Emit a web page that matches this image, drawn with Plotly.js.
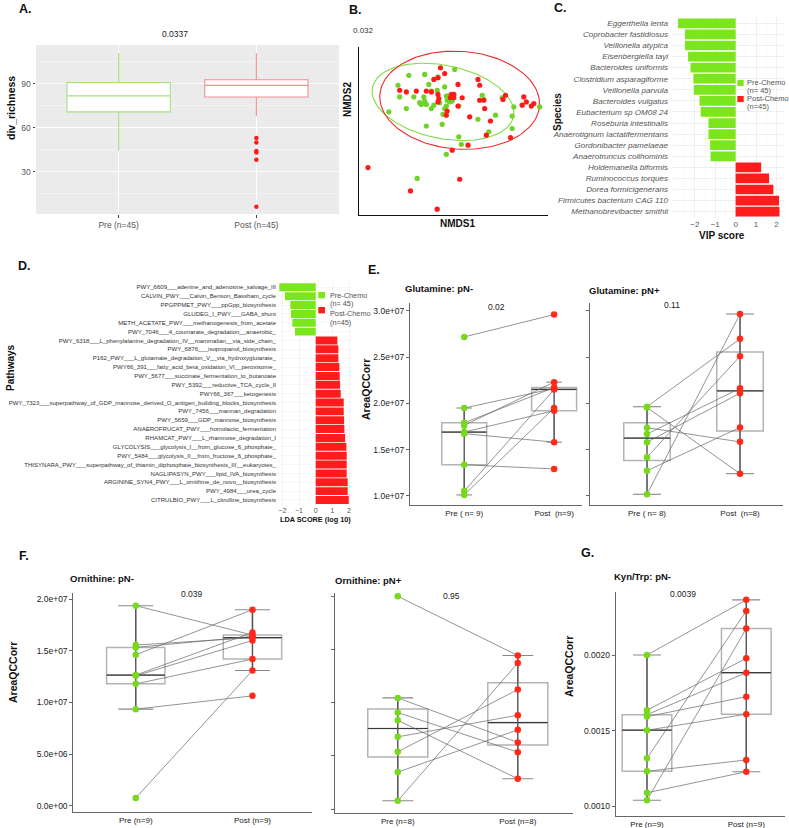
<!DOCTYPE html>
<html><head><meta charset="utf-8">
<script src="https://cdn.plot.ly/plotly-3.0.1.min.js"></script>
<style>html,body{margin:0;padding:0;background:#fff}#chart{width:789px;height:828px}</style>
</head><body><div id="chart"></div>
<script>
// ---------------- DATA ----------------
// A. richness box plot (summary statistics)
const richCats = ['Pre (n=45)', 'Post (n=45)'];
const richQ1 = [70.8, 81.0];
const richMed = [81.7, 88.9];
const richQ3 = [90.9, 92.7];
const richLo = [44.2, 68.0];
const richHi = [111.0, 111.0];
const richPostOutliers = [53.0, 49.8, 44.0, 43.1, 38.1, 5.9];
const richP = '0.0337';

// B. NMDS ordination
const nmdsPreX = [-0.53,-0.34,0.02,-0.18,-0.66,-0.29,-0.10,-0.64,-0.47,-0.56,-0.19,-0.26,-0.35,-0.34,-0.40,-0.38,-0.32,-0.26,-0.16,-0.08,-0.06,-0.07,-0.04,-0.08,-0.10,-0.12,-0.13,-0.32,-0.77,0.07,-0.01,0.35,0.37,0.30,0.51,0.59,0.73,0.71,0.71,0.43,0.07,0.10,-0.08,-0.43,1.04,-0.23];
const nmdsPreY = [0.42,0.43,0.49,0.40,0.30,0.31,0.28,0.16,0.16,0.02,0.24,0.23,0.16,0.11,0.09,0.07,0.07,0.02,0.09,0.17,0.17,0.12,0.10,0.05,0.02,-0.05,-0.17,-0.19,-0.02,0.05,0.11,0.18,0.13,-0.11,-0.06,0.15,0.04,-0.07,-0.22,-0.26,-0.32,-0.41,-0.53,-0.82,0.04,0.06];
const nmdsPostX = [-0.15,-0.10,-0.23,-0.18,-0.64,-0.56,-0.44,-0.32,-0.26,0.06,0.30,0.32,-0.18,-0.02,0.01,-0.03,0.01,0.11,-0.17,-0.18,-0.07,0.06,0.20,0.32,0.37,0.38,0.45,0.40,0.63,0.60,0.85,0.88,0.97,0.94,0.83,0.69,0.18,-0.01,0.08,-0.51,-0.19,-1.02,-0.08];
const nmdsPostY = [0.51,0.44,0.37,0.39,0.24,0.22,0.23,0.23,0.22,0.31,0.37,0.30,0.19,0.19,0.19,0.15,0.15,0.15,0.14,0.10,-0.01,0.05,-0.08,0.12,0.12,0.02,-0.13,-0.30,0.18,0.13,0.16,0.10,0.08,0.05,0.06,-0.33,-0.42,-0.48,-0.83,-0.97,-1.19,-0.69,-0.06];
// ellipse: centre x, centre y, semi-axis a, semi-axis b, rotation (deg)
const ellipsePre = [-0.12, 0.10, 0.864, 0.44, -11.7];
const ellipsePost = [0.08, 0.12, 0.96, 0.588, -4];
const nmdsP = '0.032';

// C. VIP scores
const speciesPre = ['Eggerthella lenta','Coprobacter fastidiosus','Veillonella atypica','Eisenbergiella tayi','Bacteroides uniformis','Clostridium asparagiforme','Veillonella parvula','Bacteroides vulgatus','Eubacterium sp OM08 24','Roseburia intestinalis','Anaerotignum lactatifermentans','Gordonibacter pamelaeae','Anaerotruncus colihominis'];
const vipPre = [-2.82,-2.48,-2.48,-2.33,-2.21,-2.07,-2.05,-1.77,-1.71,-1.33,-1.33,-1.25,-1.23];
const speciesPost = ['Holdemanella biformis','Ruminococcus torques','Dorea formicigenerans','Firmicutes bacterium CAG 110','Methanobrevibacter smithii'];
const vipPost = [1.25,1.64,1.85,2.13,2.15];

// D. LDA scores
const pathwaysPre = ['PWY_6609___adenine_and_adenosine_salvage_III','CALVIN_PWY___Calvin_Benson_Bassham_cycle','PPGPPMET_PWY___ppGpp_biosynthesis','GLUDEG_I_PWY___GABA_shunt','METH_ACETATE_PWY___methanogenesis_from_acetate','PWY_7046___4_coumarate_degradation__anaerobic_'];
const ldaPre = [-2.18,-1.84,-1.52,-1.48,-1.40,-1.24];
const pathwaysPost = ['PWY_6318___L_phenylalanine_degradation_IV__mammalian__via_side_chain_','PWY_6876___isopropanol_biosynthesis','P162_PWY___L_glutamate_degradation_V__via_hydroxyglutarate_','PWY66_391___fatty_acid_beta_oxidation_VI__peroxisome_','PWY_5677___succinate_fermentation_to_butanoate','PWY_5392___reductive_TCA_cycle_II','PWY66_367___ketogenesis','PWY_7323___superpathway_of_GDP_mannose_derived_O_antigen_building_blocks_biosynthesis','PWY_7456___mannan_degradation','PWY_5659___GDP_mannose_biosynthesis','ANAEROFRUCAT_PWY___homolactic_fermentation','RHAMCAT_PWY___L_rhamnose_degradation_I','GLYCOLYSIS___glycolysis_I__from_glucose_6_phosphate_','PWY_5484___glycolysis_II__from_fructose_6_phosphate_','THISYNARA_PWY___superpathway_of_thiamin_diphosphate_biosynthesis_III__eukaryotes_','NAGLIPASYN_PWY___lipid_IVA_biosynthesis','ARGININE_SYN4_PWY___L_ornithine_de_novo__biosynthesis','PWY_4984___urea_cycle','CITRULBIO_PWY___L_citrulline_biosynthesis'];
const ldaPost = [1.30,1.36,1.36,1.42,1.44,1.46,1.50,1.68,1.68,1.70,1.72,1.76,1.84,1.86,1.86,1.86,1.92,1.92,1.98];

// E. Glutamine (paired: index k in Pre matches index k in Post)
const gluNegCats = ['Pre ( n= 9)', 'Post\u00a0 (n=9)'];
const gluNegPre = [2.718e7,1.949e7,1.789e7,1.761e7,1.689e7,1.672e7,1.335e7,1.051e7,1.009e7];
const gluNegPost = [2.96e7,2.16e7,2.17e7,2.229e7,1.92e7,1.58e7,1.29e7,2.15e7,1.95e7];
const gluNegP = '0.02';
const gluPosCats = ['Pre ( n= 8)', 'Post\u00a0 (n=8)'];
const gluPosPre = [1.963e7,1.955e7,1.736e7,1.668e7,1.58e7,1.417e7,1.271e7,1.016e7];
const gluPosPost = [2.697e7,1.239e7,1.583e7,2.162e7,2.109e7,2.509e7,1.739e7,2.966e7];
const gluPosP = '0.11';
const gluTickVals = [1e7,1.5e7,2e7,2.5e7,3e7];
const gluTickText = ['1.0e+07','1.5e+07','2.0e+07','2.5e+07','3.0e+07'];

// F. Ornithine
const ornNegCats = ['Pre (n=9)', 'Post (n=9)'];
const ornNegPre = [1.937e7,1.556e7,1.533e7,1.462e7,1.265e7,1.258e7,1.18e7,0.935e7,0.075e7];
const ornNegPost = [1.653e7,1.627e7,1.64e7,1.898e7,1.678e7,1.60e7,1.42e7,1.064e7,1.31e7];
const ornNegP = '0.039';
const ornPosCats = ['Pre (n=8)', 'Post (n=8)'];
const ornPosPre = [2.004e7,1.047e7,0.909e7,0.837e7,0.68e7,0.539e7,0.348e7,0.078e7];
const ornPosPost = [1.446e7,0.627e7,0.536e7,0.285e7,0.884e7,1.126e7,0.746e7,1.376e7];
const ornPosP = '0.95';
const ornTickVals = [0,5e6,1e7,1.5e7,2e7];
const ornTickText = ['0.0e+00','5.0e+06','1.0e+07','1.5e+07','2.0e+07'];

// G. Kyn/Trp
const kynCats = ['Pre (n=9)', 'Post (n=9)'];
const kynPre = [0.002003,0.001637,0.001608,0.001595,0.001505,0.001319,0.001233,0.001091,0.001041];
const kynPost = [0.002368,0.001981,0.001886,0.001727,0.001611,0.002295,0.001308,0.00123,0.002178];
const kynP = '0.0039';
const kynTickVals = [0.001,0.0015,0.002];
const kynTickText = ['0.0010','0.0015','0.0020'];

const legendLabels = ['Pre-Chemo', '(n= 45)', 'Post-Chemo', '(n=45)'];

// ---------------- STYLE / HELPERS ----------------
const W = 789, H = 828;
const FONT = 'Liberation Sans, Arial, sans-serif';
const GREEN = '#77d81e', RED = '#ff2a1a';
const BAR_GREEN = '#7be61c', BAR_RED = '#ff1c1c';
const BOXW = 0.5;
const dom = (a, b) => [a / W, b / W];
const vdom = (top, bot) => [1 - bot / H, 1 - top / H];

function q7(arr, p) {
  const s = [...arr].sort((a, b) => a - b);
  const h = (s.length - 1) * p, lo = Math.floor(h);
  const hi = Math.min(lo + 1, s.length - 1);
  return s[lo] + (h - lo) * (s[hi] - s[lo]);
}
function boxStats(vals) {
  const q1 = q7(vals, 0.25), med = q7(vals, 0.5), q3 = q7(vals, 0.75);
  const iqr = q3 - q1;
  const inside = vals.filter(v => v >= q1 - 1.5 * iqr && v <= q3 + 1.5 * iqr);
  return {q1, med, q3, lo: Math.min(...inside), hi: Math.max(...inside)};
}
function ellipsePts(p) {
  const [cx, cy, a, b, deg] = p, th = deg * Math.PI / 180;
  const xs = [], ys = [];
  for (let k = 0; k <= 144; k++) {
    const t = 2 * Math.PI * k / 144;
    const ex = a * Math.cos(t), ey = b * Math.sin(t);
    xs.push(cx + ex * Math.cos(th) - ey * Math.sin(th));
    ys.push(cy + ex * Math.sin(th) + ey * Math.cos(th));
  }
  return [xs, ys];
}

const traces = [];

// ---------------- A ----------------
richCats.forEach((c, i) => {
  traces.push({type: 'box', x: [i], q1: [richQ1[i]], median: [richMed[i]], q3: [richQ3[i]],
    lowerfence: [richLo[i]], upperfence: [richHi[i]], width: 0.75, whiskerwidth: 0,
    fillcolor: '#ffffff', line: {color: i === 0 ? '#a6e27c' : '#f29090', width: 1.1},
    boxpoints: false, xaxis: 'x', yaxis: 'y', hoverinfo: 'skip'});
});
traces.push({type: 'scatter', mode: 'markers', x: richPostOutliers.map(() => 1), y: richPostOutliers,
  marker: {color: '#ff1a1a', size: 4.5}, xaxis: 'x', yaxis: 'y', hoverinfo: 'skip'});

// ---------------- B ----------------
[[ellipsePre, '#7fdc3f'], [ellipsePost, '#ee2a2a']].forEach(([p, col]) => {
  const [xs, ys] = ellipsePts(p);
  traces.push({type: 'scatter', mode: 'lines', x: xs, y: ys, line: {color: col, width: 1.1},
    xaxis: 'x2', yaxis: 'y2', hoverinfo: 'skip'});
});
traces.push({type: 'scatter', mode: 'markers', x: nmdsPreX, y: nmdsPreY, marker: {color: '#6fd12a', size: 5.2},
  xaxis: 'x2', yaxis: 'y2', hoverinfo: 'skip'});
traces.push({type: 'scatter', mode: 'markers', x: nmdsPostX, y: nmdsPostY, marker: {color: '#ff1a1a', size: 5.2},
  xaxis: 'x2', yaxis: 'y2', hoverinfo: 'skip'});

// ---------------- C ----------------
traces.push({type: 'bar', orientation: 'h', y: speciesPre, x: vipPre, marker: {color: BAR_GREEN},
  width: 0.88, xaxis: 'x3', yaxis: 'y3', hoverinfo: 'skip'});
traces.push({type: 'bar', orientation: 'h', y: speciesPost, x: vipPost, marker: {color: BAR_RED},
  width: 0.88, xaxis: 'x3', yaxis: 'y3', hoverinfo: 'skip'});

// ---------------- D ----------------
traces.push({type: 'bar', orientation: 'h', y: pathwaysPre, x: ldaPre, marker: {color: BAR_GREEN},
  width: 0.9, xaxis: 'x4', yaxis: 'y4', hoverinfo: 'skip'});
traces.push({type: 'bar', orientation: 'h', y: pathwaysPost, x: ldaPost, marker: {color: BAR_RED},
  width: 0.9, xaxis: 'x4', yaxis: 'y4', hoverinfo: 'skip'});

// ---------------- paired panels ----------------
function paired(n, pre, post, capSize) {
  const xa = 'x' + n, ya = 'y' + n;
  [pre, post].forEach((vals, i) => {
    const s = boxStats(vals);
    traces.push({type: 'box', x: [i], q1: [s.q1], median: [s.med], q3: [s.q3], lowerfence: [s.lo], upperfence: [s.hi],
      width: BOXW, whiskerwidth: 0, fillcolor: 'rgba(255,255,255,0)', line: {color: '#b4b4b4', width: 1.5},
      boxpoints: false, xaxis: xa, yaxis: ya, hoverinfo: 'skip'});
    traces.push({type: 'scatter', mode: 'lines', x: [i - BOXW / 2, i + BOXW / 2], y: [s.med, s.med],
      line: {color: '#3a3a3a', width: 1.2}, xaxis: xa, yaxis: ya, hoverinfo: 'skip'});
    traces.push({type: 'scatter', mode: 'lines', x: [i, i], y: [s.lo, s.hi],
      line: {color: '#555555', width: 1.4}, xaxis: xa, yaxis: ya, hoverinfo: 'skip'});
    traces.push({type: 'scatter', mode: 'markers', x: [i, i], y: [s.lo, s.hi],
      marker: {symbol: 'line-ew', size: capSize, color: '#888', line: {width: 1.1, color: '#888'}},
      xaxis: xa, yaxis: ya, hoverinfo: 'skip'});
  });
  const lx = [], ly = [];
  pre.forEach((v, k) => { lx.push(0, 1, null); ly.push(v, post[k], null); });
  traces.push({type: 'scatter', mode: 'lines', x: lx, y: ly, line: {color: '#666', width: 0.7},
    xaxis: xa, yaxis: ya, hoverinfo: 'skip'});
  traces.push({type: 'scatter', mode: 'markers', x: pre.map(() => 0), y: pre, marker: {color: GREEN, size: 6.5},
    xaxis: xa, yaxis: ya, hoverinfo: 'skip'});
  traces.push({type: 'scatter', mode: 'markers', x: post.map(() => 1), y: post, marker: {color: RED, size: 6.5},
    xaxis: xa, yaxis: ya, hoverinfo: 'skip'});
}
paired(5, gluNegPre, gluNegPost, 11);
paired(6, gluPosPre, gluPosPost, 20);
paired(7, ornNegPre, ornNegPost, 25);
paired(8, ornPosPre, ornPosPost, 22);
paired(9, kynPre, kynPost, 20);

// ---------------- LAYOUT ----------------
const base = {showgrid: false, zeroline: false, fixedrange: true};
function pairedX(n, a, b, range, cats) {
  return Object.assign({}, base, {domain: dom(a, b), range, tickvals: [0, 1], ticktext: cats,
    showline: true, linecolor: '#666', linewidth: 1, ticks: '', anchor: 'y' + n,
    tickfont: {size: 8, color: '#222', family: FONT}});
}
function pairedY(n, top, bot, range, tv, tt, labels) {
  return Object.assign({}, base, {domain: vdom(top, bot), range, tickvals: tv, ticktext: tt,
    showticklabels: labels, ticks: 'outside', ticklen: 3, tickcolor: '#666', tickwidth: 1,
    showline: true, linecolor: '#666', linewidth: 1, anchor: 'x' + n,
    tickfont: {size: 8.5, color: '#222', family: FONT}});
}

const layout = {
  width: W, height: H, margin: {l: 0, r: 0, t: 0, b: 0},
  paper_bgcolor: '#ffffff', plot_bgcolor: 'rgba(0,0,0,0)', showlegend: false,
  font: {family: FONT}, boxmode: 'overlay', barmode: 'overlay',
  // A
  xaxis: Object.assign({}, base, {domain: dom(36, 339), range: [-0.6, 1.6], tickvals: [0, 1], ticktext: richCats,
    showgrid: true, gridcolor: '#ffffff', gridwidth: 1, ticks: 'outside', ticklen: 2.5, tickcolor: '#444',
    tickfont: {size: 8.5, color: '#555'}, anchor: 'y'}),
  yaxis: Object.assign({}, base, {domain: vdom(45, 214), range: [1, 116.5], tickvals: [30, 60, 90],
    showgrid: true, gridcolor: '#ffffff', gridwidth: 1,
    minor: {tickvals: [15, 45, 75, 105], showgrid: true, gridcolor: '#f7f7f7', gridwidth: 0.6, ticks: ''},
    ticks: 'outside', ticklen: 2.5, tickcolor: '#444', tickfont: {size: 8.5, color: '#555'}, anchor: 'x'}),
  // B
  xaxis2: Object.assign({}, base, {domain: dom(359, 548), range: [-1.128, 1.14], showline: true, linecolor: '#111',
    linewidth: 1, showticklabels: false, ticks: '', anchor: 'y2'}),
  yaxis2: Object.assign({}, base, {domain: vdom(47, 215), range: [-1.26, 0.76], showline: true, linecolor: '#111',
    linewidth: 1, showticklabels: false, ticks: '', anchor: 'x2'}),
  // C
  xaxis3: Object.assign({}, base, {domain: dom(673, 785), range: [-3.07, 2.42], tickvals: [-2, -1, 0, 1, 2],
    showgrid: true, gridcolor: '#ebebeb', gridwidth: 0.8,
    minor: {tickvals: [-2.5, -1.5, -0.5, 0.5, 1.5], showgrid: true, gridcolor: '#f4f4f4', gridwidth: 0.5, ticks: ''},
    ticks: '', tickfont: {size: 8, color: '#555'}, anchor: 'y3'}),
  yaxis3: Object.assign({}, base, {domain: vdom(16.7, 218.3), type: 'category',
    categoryarray: speciesPre.concat(speciesPost), categoryorder: 'array', range: [17.6, -0.6],
    showgrid: true, gridcolor: '#ebebeb', gridwidth: 0.8, ticks: '', ticklabelstandoff: 4,
    tickfont: {size: 8.1, color: '#555', style: 'italic'}, anchor: 'x3'}),
  // D
  xaxis4: Object.assign({}, base, {domain: dom(279, 352.4), range: [-2.2, 2.2], tickvals: [-2, -1, 0, 1, 2],
    showgrid: true, gridcolor: '#efefef', gridwidth: 0.8, ticks: '', tickfont: {size: 7, color: '#555'}, anchor: 'y4'}),
  yaxis4: Object.assign({}, base, {domain: vdom(282, 505.3), type: 'category',
    categoryarray: pathwaysPre.concat(pathwaysPost), categoryorder: 'array', range: [24.6, -0.6],
    showgrid: true, gridcolor: '#f2f2f2', gridwidth: 0.6, ticks: '', ticklabelstandoff: 2,
    tickfont: {size: 6.05, color: '#333'}, anchor: 'x4'}),
  // E
  xaxis5: pairedX(5, 410, 582, [-0.603, 1.31], gluNegCats),
  yaxis5: pairedY(5, 303, 505, [0.90e7, 3.085e7], gluTickVals, gluTickText, true),
  xaxis6: pairedX(6, 590, 783, [-0.613, 1.462], gluPosCats),
  yaxis6: pairedY(6, 303, 505, [0.90e7, 3.085e7], gluTickVals, gluTickText, false),
  // F
  xaxis7: pairedX(7, 73.3, 312, [-0.535, 1.51], ornNegCats),
  yaxis7: pairedY(7, 593, 812.3, [-0.064e7, 2.06e7], ornTickVals, ornTickText, true),
  xaxis8: pairedX(8, 335, 573, [-0.523, 1.46], ornPosCats),
  yaxis8: pairedY(8, 593, 813.3, [-0.04e7, 2.035e7], ornTickVals, ornTickText, false),
  // G
  xaxis9: pairedX(9, 615.7, 785, [-0.315, 1.39], kynCats),
  yaxis9: pairedY(9, 591.7, 816, [0.000937, 0.002422], kynTickVals, kynTickText, true),
};

// shapes: A background, legend keys
const shapes = [
  {type: 'rect', xref: 'x domain', yref: 'y domain', x0: 0, x1: 1, y0: 0, y1: 1,
    fillcolor: '#ebebeb', line: {width: 0}, layer: 'below'}
];
function keyRect(x0, x1, top, bot, col) {
  shapes.push({type: 'rect', xref: 'paper', yref: 'paper', x0: x0 / W, x1: x1 / W, y0: 1 - bot / H, y1: 1 - top / H,
    fillcolor: col, line: {width: 0}});
}
keyRect(737.3, 743.7, 80, 86, BAR_GREEN);
keyRect(737.3, 743.7, 96, 102, BAR_RED);
keyRect(318.3, 325, 292, 298.3, BAR_GREEN);
keyRect(318.3, 325, 307, 313.3, BAR_RED);
layout.shapes = shapes;

// annotations
const anns = [];
function ann(text, x, y, o) {
  o = o || {};
  anns.push({text, x: x / W, y: 1 - y / H, xref: 'paper', yref: 'paper', showarrow: false,
    xanchor: o.xa || 'center', yanchor: 'middle', textangle: o.rot || 0,
    font: {size: o.size || 9, color: o.color || '#222', family: FONT}});
}
// panel letters
ann('<b>A.</b>', 17, 9, {xa: 'left', size: 12.5, color: '#111'});
ann('<b>B.</b>', 347, 10, {xa: 'left', size: 12.5, color: '#111'});
ann('<b>C.</b>', 552, 8, {xa: 'left', size: 12.5, color: '#111'});
ann('<b>D.</b>', 16, 266, {xa: 'left', size: 12.5, color: '#111'});
ann('<b>E.</b>', 366, 270, {xa: 'left', size: 12.5, color: '#111'});
ann('<b>F.</b>', 17, 556, {xa: 'left', size: 12.5, color: '#111'});
ann('<b>G.</b>', 579, 553, {xa: 'left', size: 12.5, color: '#111'});
// A
ann(richP, 175, 34, {size: 8.5});
ann('<b>div_richness</b>', 11, 108, {rot: -90, size: 10.5, color: '#111'});
// B
ann(nmdsP, 363, 30, {size: 8, color: '#333'});
ann('<b>NMDS2</b>', 348, 100, {rot: -90, size: 10, color: '#111'});
ann('<b>NMDS1</b>', 457, 224, {size: 10, color: '#111'});
// C
ann('<b>Species</b>', 558, 112, {rot: -90, size: 10, color: '#111'});
ann('<b>VIP score</b>', 722, 236, {size: 10, color: '#111'});
ann(legendLabels[0], 745.3, 82.3, {xa: 'left', size: 7.5, color: '#555'});
ann(legendLabels[1], 745.3, 90, {xa: 'left', size: 7.5, color: '#555'});
ann(legendLabels[2], 745.3, 98.6, {xa: 'left', size: 7.5, color: '#555'});
ann(legendLabels[3], 745.3, 106.7, {xa: 'left', size: 7.5, color: '#555'});
// D
ann('<b>Pathways</b>', 10, 368, {rot: -90, size: 10, color: '#111'});
ann('<b>LDA SCORE (log 10)</b>', 315, 519.5, {size: 7.3, color: '#111'});
ann(legendLabels[0], 328, 295, {xa: 'left', size: 7.3, color: '#555'});
ann(legendLabels[1], 328, 303.3, {xa: 'left', size: 7.3, color: '#555'});
ann(legendLabels[2], 328, 313.3, {xa: 'left', size: 7.3, color: '#555'});
ann(legendLabels[3], 328, 322.3, {xa: 'left', size: 7.3, color: '#555'});
// E
ann('<b>Glutamine: pN-</b>', 403, 288, {xa: 'left', size: 9.5, color: '#111'});
ann('<b>Glutamine: pN+</b>', 587, 290, {xa: 'left', size: 9.5, color: '#111'});
ann(gluNegP, 496, 306.7, {size: 8.5});
ann(gluPosP, 672, 305, {size: 8.5});
ann('<b>AreaQCCorr</b>', 366, 390, {rot: -90, size: 10.5, color: '#111'});
// F
ann('<b>Ornithine: pN-</b>', 68, 578, {xa: 'left', size: 9.5, color: '#111'});
ann('<b>Ornithine: pN+</b>', 333, 580, {xa: 'left', size: 9.5, color: '#111'});
ann(ornNegP, 192, 594, {size: 8.5});
ann(ornPosP, 451, 596, {size: 8.5});
ann('<b>AreaQCCorr</b>', 13, 673, {rot: -90, size: 10.5, color: '#111'});
// G
ann('<b>Kyn/Trp: pN-</b>', 612, 576, {xa: 'left', size: 9.5, color: '#111'});
ann(kynP, 682.7, 594, {size: 8.5});
ann('<b>AreaQCCorr</b>', 569, 667, {rot: -90, size: 10.5, color: '#111'});
layout.annotations = anns;

Plotly.newPlot('chart', traces, layout, {staticPlot: true, displayModeBar: false});
</script></body></html>
